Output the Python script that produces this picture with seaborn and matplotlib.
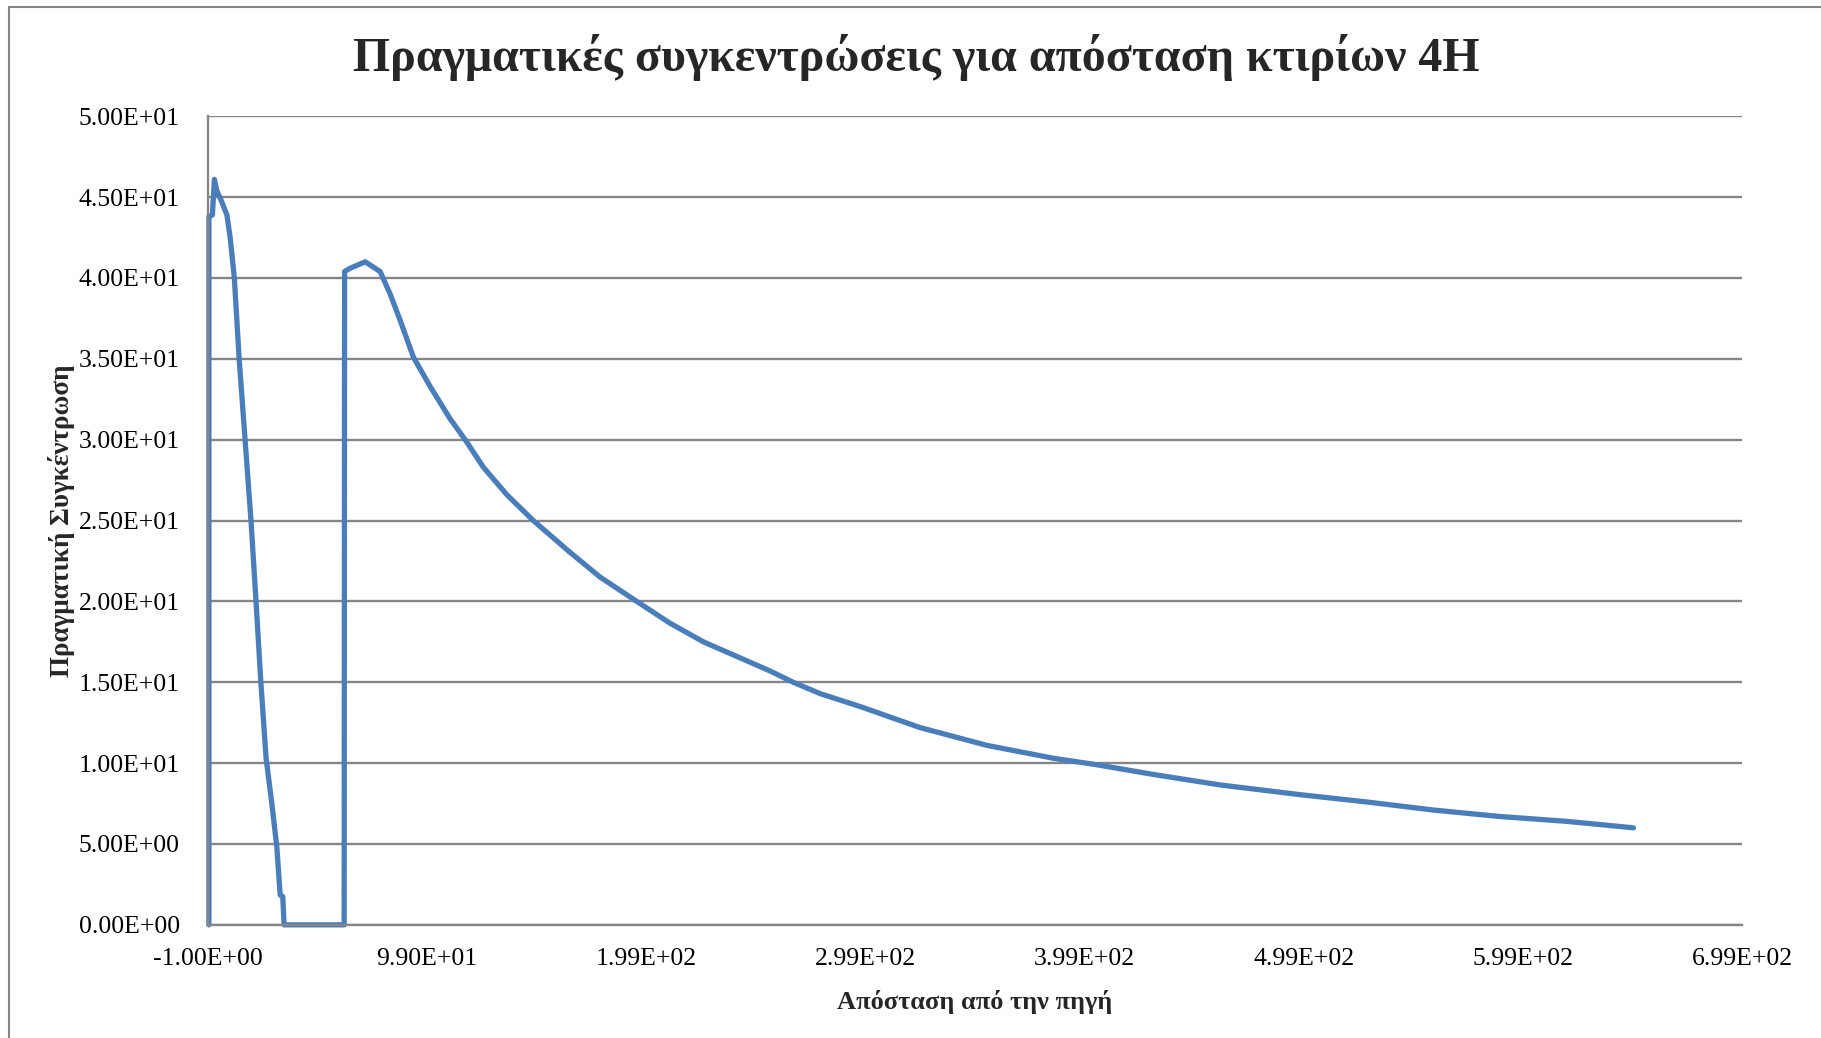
import numpy as np
import pandas as pd
import matplotlib
matplotlib.use("Agg")
import matplotlib.pyplot as plt
import seaborn as sns
from matplotlib.ticker import FormatStrFormatter
from matplotlib.patches import Rectangle

distance = [-0.4, -0.4, 1.2, 2.1, 3.2, 5.5, 7.8, 9.3, 11.2, 13.4, 16.1, 18.8,
            21.1, 23.3, 25.7, 28.3, 30.6, 32.1, 33.3, 33.9, 61.3, 61.5, 64.0,
            70.9, 77.7, 82.3, 86.8, 92.9, 100.5, 109.6, 116.5, 124.8, 135.5,
            147.6, 162.9, 178.1, 194.8, 210.0, 225.2, 240.4, 255.6, 266.2,
            278.4, 296.7, 324.0, 354.5, 384.9, 404.7, 430.5, 461.0, 497.4,
            527.8, 558.2, 588.6, 619.1, 649.5]
concentration = [0, 43.8, 43.9, 46.1, 45.4, 44.7, 43.9, 42.5, 40.0, 35.0, 30.0,
                 25.0, 20.0, 15.0, 10.3, 7.5, 4.8, 1.85, 1.75, 0, 0, 40.4, 40.6,
                 41.0, 40.4, 39.0, 37.4, 35.1, 33.3, 31.3, 30.0, 28.3, 26.6,
                 25.0, 23.2, 21.5, 20.0, 18.65, 17.5, 16.6, 15.7, 15.0,
                 14.3, 13.5, 12.2, 11.1, 10.3, 9.9, 9.3, 8.65, 8.05,
                 7.6, 7.1, 6.7, 6.4, 6.0]

x_ticks = [-1, 99, 199, 299, 399, 499, 599, 699]
y_ticks = [0, 5, 10, 15, 20, 25, 30, 35, 40, 45, 50]

title = "Πραγματικές συγκεντρώσεις για απόσταση κτιρίων 4H"
xlabel = "Απόσταση από την πηγή"
ylabel = "Πραγματική Συγκέντρωση"

df = pd.DataFrame({"x": distance, "y": concentration})

sns.set_style("white")
plt.rcParams["font.family"] = ["Liberation Serif", "DejaVu Serif"]

fig = plt.figure(figsize=(18.21, 10.38), dpi=100)
ax = fig.add_axes([0.114, 0.109, 0.8426, 0.779])

# outer chart border
fig.patches.append(Rectangle((9 / 1821, -0.1), 1.2, 1 - 7 / 1038 + 0.1,
                             transform=fig.transFigure, fill=False,
                             edgecolor="#868686", linewidth=1.5))

sns.lineplot(data=df, x="x", y="y", sort=False, estimator=None, ax=ax,
             color="#4a7ebb", linewidth=3.8, clip_on=False,
             solid_capstyle="round", solid_joinstyle="round")

ax.set_xlim(-1, 699)
ax.set_ylim(0, 50)
ax.set_xticks(x_ticks)
ax.set_yticks(y_ticks)
ax.xaxis.set_major_formatter(FormatStrFormatter("%.2E"))
ax.yaxis.set_major_formatter(FormatStrFormatter("%.2E"))
ax.tick_params(axis="both", length=0, labelsize=18.5, colors="black")
ax.tick_params(axis="x", pad=17)
ax.tick_params(axis="y", pad=20)

ax.yaxis.grid(True, color="#868686", linewidth=1.7)
ax.set_axisbelow(True)
for s in ["top", "right"]:
    ax.spines[s].set_visible(False)
for s in ["left", "bottom"]:
    ax.spines[s].set_color("#868686")
    ax.spines[s].set_linewidth(1.7)

ax.set_xlabel(xlabel, fontsize=19, fontweight="bold", labelpad=14)
ax.set_ylabel(ylabel, fontsize=19.5, fontweight="bold", labelpad=3)
fig.text(0.503, 0.945, title, fontsize=34.5, fontweight="bold",
         ha="center", va="center")

fig.savefig("out.png", dpi=100)
